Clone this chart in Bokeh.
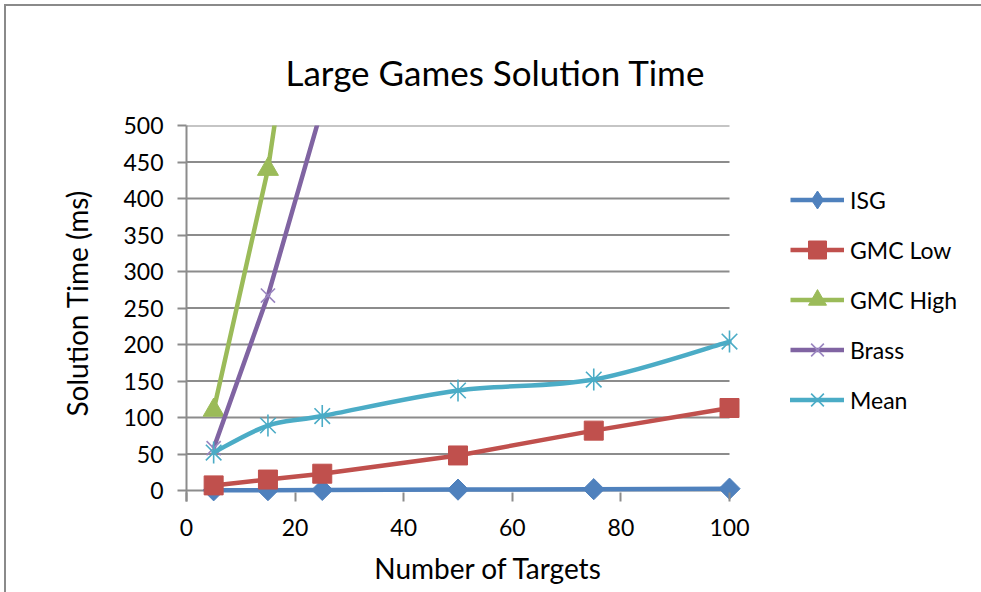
import numpy as np
from bokeh.plotting import figure
from bokeh.models import Range1d, Legend, LegendItem, FixedTicker, Title
from bokeh.embed import file_html
from bokeh.resources import INLINE

# ---- data -------------------------------------------------------------
targets = [5, 15, 25, 50, 75, 100]
isg = [0.3, 0.5, 0.8, 1.2, 1.8, 2.5]
gmc_low = [7, 15, 23, 48, 82, 113]
gmc_high_targets = [5, 15, 25]
gmc_high = [110, 440, 940]
brass_targets = [5, 15, 25]
brass = [58, 267, 525]
mean = [52, 89, 102, 137, 152, 204]

x_ticks = [0, 20, 40, 60, 80, 100]
y_ticks = [0, 50, 100, 150, 200, 250, 300, 350, 400, 450, 500]

# ---- colours / fonts --------------------------------------------------
C_ISG, C_LOW, C_HIGH, C_BRASS, C_MEAN = "#4F81BD", "#C0504D", "#9BBB59", "#8064A2", "#4BACC6"
GRID = "#8c8c8c"
EDGE = "#8a8a8a"
FONT = "Lato"

# plot-area geometry (pixels per data unit); the frame reaches to the legend
PX_X = 543 / 100
PX_Y = 365 / 500
FRAME_W = 604
FRAME_H = 376
CANVAS_W, CANVAS_H = 981, 592
LEFT, TOP = 186, 125

p = figure(
    frame_width=FRAME_W, frame_height=FRAME_H,
    min_border_left=LEFT, min_border_top=TOP,
    min_border_right=CANVAS_W - LEFT - FRAME_W,
    min_border_bottom=CANVAS_H - TOP - FRAME_H,
    x_range=Range1d(0, FRAME_W / PX_X),
    y_range=Range1d(500 - FRAME_H / PX_Y, 500),
    output_backend="svg", toolbar_location=None,
)
# chart-area edge (top and left) painted behind a transparent border region
p.border_fill_color = None
p.background_fill_color = "white"
p.styles = {
    "background-color": "white",
    "background-image": f"linear-gradient({EDGE},{EDGE}), linear-gradient({EDGE},{EDGE})",
    "background-size": "100% 2px, 2px 100%",
    "background-position": "4px 4px, 4px 4px",
    "background-repeat": "no-repeat",
}
p.outline_line_color = None
p.xgrid.visible = False
p.ygrid.visible = False

# horizontal gridlines spanning the category range only
p.segment(x0=[x_ticks[0]] * len(y_ticks), y0=y_ticks,
          x1=[x_ticks[-1]] * len(y_ticks), y1=y_ticks,
          line_color=GRID, line_width=2, level="underlay")

# ---- axes -------------------------------------------------------------
p.xaxis.ticker = FixedTicker(ticks=x_ticks)
p.yaxis.ticker = FixedTicker(ticks=y_ticks)
for ax in (p.xaxis, p.yaxis):
    ax.major_label_text_font = FONT
    ax.major_label_text_font_size = "23px"
    ax.major_label_text_color = "black"
    ax.minor_tick_line_color = None
    ax.major_tick_line_color = GRID
    ax.major_tick_line_width = 2

p.yaxis.axis_line_color = GRID
p.yaxis.axis_line_width = 2
p.yaxis.major_tick_out = 9
p.yaxis.major_tick_in = 0
p.yaxis.major_label_standoff = 14

p.xaxis.axis_line_color = None
p.xaxis.major_tick_in = 9
p.xaxis.major_tick_out = 0
p.xaxis.major_label_standoff = 17
p.xaxis.axis_label = "Number of Targets"
p.xaxis.axis_label_standoff = 12
p.xaxis.axis_label_text_font = FONT
p.xaxis.axis_label_text_font_size = "28px"
p.xaxis.axis_label_text_font_style = "normal"
p.xaxis.axis_label_text_color = "black"

# ---- series -----------------------------------------------------------
def smooth(xs, ys):
    """Cubic Bezier pieces through the points (Catmull-Rom style)."""
    n = len(xs)
    seg = dict(x0=[], y0=[], x1=[], y1=[], cx0=[], cy0=[], cx1=[], cy1=[])
    for i in range(n - 1):
        a, b = max(i - 1, 0), min(i + 2, n - 1)
        seg["x0"].append(xs[i]); seg["y0"].append(ys[i])
        seg["x1"].append(xs[i + 1]); seg["y1"].append(ys[i + 1])
        seg["cx0"].append(xs[i] + (xs[i + 1] - xs[a]) / 6)
        seg["cy0"].append(ys[i] + (ys[i + 1] - ys[a]) / 6)
        seg["cx1"].append(xs[i + 1] - (xs[b] - xs[i]) / 6)
        seg["cy1"].append(ys[i + 1] - (ys[b] - ys[i]) / 6)
    return seg

LW = 4.5

isg_l = p.line(targets, isg, line_color=C_ISG, line_width=LW, line_join="round")
# slim diamond (used as the legend key) sits beneath the larger rotated squares
isg_key = p.scatter(targets, isg, marker="diamond", size=15,
                    fill_color=C_ISG, line_color=C_ISG)
isg_m = p.scatter(targets, isg, marker="square", angle=np.pi / 4, size=15,
                  fill_color=C_ISG, line_color=C_ISG)

low_l = p.line(targets, gmc_low, line_color=C_LOW, line_width=LW, line_join="round")
low_m = p.scatter(targets, gmc_low, marker="square", size=19,
                  fill_color=C_LOW, line_color=C_LOW)

high_l = p.line(gmc_high_targets, gmc_high, line_color=C_HIGH, line_width=LW, line_join="round")
high_m = p.scatter(gmc_high_targets, gmc_high, marker="triangle", size=21,
                   fill_color=C_HIGH, line_color=C_HIGH)

brass_l = p.line(brass_targets, brass, line_color=C_BRASS, line_width=LW, line_join="round")
brass_m = p.scatter(brass_targets, brass, marker="x", size=20,
                    line_color="#9a86c0", line_width=1.6)

mean_c = p.bezier(**smooth(targets, mean), line_color=C_MEAN, line_width=LW, line_cap="round")
mean_x = p.scatter(targets, mean, marker="x", size=22, line_color=C_MEAN, line_width=1.6)
mean_d = p.scatter(targets, mean, marker="dash", angle=np.pi / 2, size=22,
                   line_color=C_MEAN, line_width=1.6)

legend = Legend(items=[
    LegendItem(label="ISG", renderers=[isg_l, isg_key]),
    LegendItem(label="GMC Low", renderers=[low_l, low_m]),
    LegendItem(label="GMC High", renderers=[high_l, high_m]),
    LegendItem(label="Brass", renderers=[brass_l, brass_m]),
    LegendItem(label="Mean", renderers=[mean_c, mean_x, mean_d]),
])
legend.location = (0, 79)
legend.glyph_width = 54
legend.glyph_height = 45
legend.spacing = 5
legend.label_standoff = 6
legend.padding = 0
legend.margin = 0
legend.border_line_color = None
legend.background_fill_alpha = 0
legend.label_text_font = FONT
legend.label_text_font_size = "23px"
legend.label_text_color = "black"
p.add_layout(legend, "right")

# ---- titles -----------------------------------------------------------
p.title.text = "Large Games Solution Time"
p.title.align = "left"
p.title.offset = 99
p.title.standoff = 65
p.title.text_font = FONT
p.title.text_font_size = "35px"
p.title.text_font_style = "normal"
p.title.text_color = "black"

p.add_layout(Title(text="Solution Time (ms)", align="left", offset=85, standoff=54,
                   text_font=FONT, text_font_size="28px", text_font_style="normal",
                   text_color="black"), "left")

open("out.html", "w").write(file_html(p, INLINE))
